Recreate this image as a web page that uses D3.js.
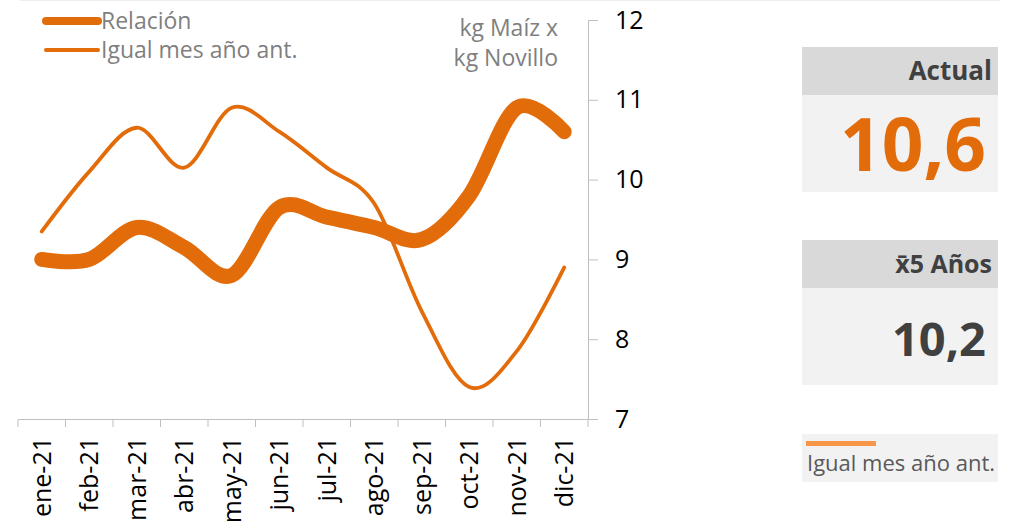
<!DOCTYPE html>
<html>
<head>
<meta charset="utf-8">
<script src="https://cdn.jsdelivr.net/npm/d3@7"></script>
<style>
  body { margin: 0; background: #fff; }
  text { font-family: "Open Sans", "Noto Sans", sans-serif; }
</style>
</head>
<body>
<div id="chart"></div>
<script>
// data
var months = ['ene-21', 'feb-21', 'mar-21', 'abr-21', 'may-21', 'jun-21',
              'jul-21', 'ago-21', 'sep-21', 'oct-21', 'nov-21', 'dic-21'];
var relacion = [9.0, 9.0, 9.4, 9.15, 8.8, 9.65, 9.53, 9.4, 9.25, 9.8, 10.9, 10.6];
var igual_mes = [9.35, 10.1, 10.65, 10.15, 10.9, 10.6, 10.15, 9.7, 8.35, 7.4, 7.85, 8.9];
var y_ticks = [7, 8, 9, 10, 11, 12];
var actual_label = 'Actual', actual_value = '10,6';
var avg_label = 'x\u03045 Años', avg_value = '10,2';
var series_names = ['Relación', 'Igual mes año ant.'];

const orange = '#e36c0a';
const grey_axis = '#bfbfbf';
const grey_text = '#7f7f7f';

var svg = d3.select('#chart').append('svg')
  .attr('width', 1022)
  .attr('height', 531);

// faint top border of the chart area
svg.append('line')
  .attr('x1', 20).attr('x2', 1000)
  .attr('y1', 0.5).attr('y2', 0.5)
  .attr('stroke', '#efefef');

var x = d3.scaleBand().domain(months).range([18, 588]);
var y = d3.scaleLinear().domain([7, 12]).range([419, 20]);

// y axis on the right
var y_axis = svg.append('g')
  .attr('transform', 'translate(588,0)')
  .call(d3.axisRight(y).tickValues(y_ticks).tickFormat(d3.format('d'))
    .tickSize(10).tickSizeOuter(0).tickPadding(17));
y_axis.select('.domain').attr('stroke', grey_axis);
y_axis.selectAll('.tick line').attr('stroke', grey_axis);
y_axis.selectAll('.tick text')
  .attr('font-size', 25)
  .attr('fill', '#000')
  .style('font-family', '"Open Sans", sans-serif');

// x axis
var x_axis = svg.append('g')
  .attr('transform', 'translate(0,419)')
  .call(d3.axisBottom(x).tickSize(0).tickPadding(0));
x_axis.select('.domain').attr('stroke', grey_axis);
x_axis.selectAll('.tick text')
  .attr('transform', 'rotate(-90)')
  .attr('text-anchor', 'end')
  .attr('x', -18)
  .attr('y', 0)
  .attr('dy', '0.36em')
  .attr('font-size', 25)
  .attr('fill', '#000')
  .style('font-family', '"Open Sans", sans-serif');
// tick marks between categories
x_axis.selectAll('.bound')
  .data(months.concat(['end']))
  .enter().append('line')
  .attr('class', 'bound')
  .attr('x1', function(d, i){ return i < months.length ? x(d) : x.range()[1]; })
  .attr('x2', function(d, i){ return i < months.length ? x(d) : x.range()[1]; })
  .attr('y1', 0).attr('y2', 8)
  .attr('stroke', grey_axis);

// lines
var line_gen = d3.line()
  .x(function(d, i){ return x(months[i]) + x.bandwidth() / 2; })
  .y(function(d){ return y(d); })
  .curve(d3.curveCatmullRom.alpha(0));

svg.append('path')
  .datum(igual_mes)
  .attr('d', line_gen)
  .attr('fill', 'none')
  .attr('stroke', orange)
  .attr('stroke-width', 3.8)
  .attr('stroke-linecap', 'round');

svg.append('path')
  .datum(relacion)
  .attr('d', line_gen)
  .attr('fill', 'none')
  .attr('stroke', orange)
  .attr('stroke-width', 15)
  .attr('stroke-linecap', 'round')
  .attr('stroke-linejoin', 'round');

// legend top-left
svg.append('line')
  .attr('x1', 46).attr('x2', 98).attr('y1', 21).attr('y2', 21)
  .attr('stroke', orange).attr('stroke-width', 8).attr('stroke-linecap', 'round');
svg.append('line')
  .attr('x1', 46).attr('x2', 98).attr('y1', 50).attr('y2', 50)
  .attr('stroke', orange).attr('stroke-width', 4).attr('stroke-linecap', 'round');
svg.append('text')
  .attr('x', 101).attr('y', 29)
  .attr('font-size', 23).attr('fill', grey_text)
  .text(series_names[0]);
svg.append('text')
  .attr('x', 101).attr('y', 58)
  .attr('font-size', 23).attr('fill', grey_text)
  .text(series_names[1]);

// unit label
svg.append('text')
  .attr('x', 558).attr('y', 36)
  .attr('text-anchor', 'end')
  .attr('font-size', 23).attr('fill', grey_text)
  .text('kg Maíz x');
svg.append('text')
  .attr('x', 558).attr('y', 66)
  .attr('text-anchor', 'end')
  .attr('font-size', 23).attr('fill', grey_text)
  .text('kg Novillo');

// right panel boxes
function stat_box(top, head_h, body_h, label, label_size, value, value_size, value_color, value_y){
  svg.append('rect')
    .attr('x', 802).attr('y', top)
    .attr('width', 196).attr('height', head_h)
    .attr('fill', '#d9d9d9');
  svg.append('rect')
    .attr('x', 802).attr('y', top + head_h)
    .attr('width', 196).attr('height', body_h)
    .attr('fill', '#f2f2f2');
  svg.append('text')
    .attr('x', 992).attr('y', top + head_h / 2)
    .attr('dy', '0.36em')
    .attr('text-anchor', 'end')
    .attr('font-size', label_size).attr('font-weight', 'bold')
    .attr('fill', '#404040')
    .text(label);
  svg.append('text')
    .attr('x', 986).attr('y', value_y)
    .attr('text-anchor', 'end')
    .attr('font-size', value_size).attr('font-weight', 'bold')
    .attr('fill', value_color)
    .text(value);
}
stat_box(47, 48, 97, actual_label, 26, actual_value, 73, orange, 171);
stat_box(240, 48, 97, avg_label, 25, avg_value, 47, '#404040', 356);

// bottom legend box
svg.append('rect')
  .attr('x', 802).attr('y', 434)
  .attr('width', 196).attr('height', 48)
  .attr('fill', '#f2f2f2');
svg.append('line')
  .attr('x1', 806).attr('x2', 876).attr('y1', 443.5).attr('y2', 443.5)
  .attr('stroke', '#f79646').attr('stroke-width', 5);
svg.append('text')
  .attr('x', 807).attr('y', 471)
  .attr('font-size', 22).attr('fill', '#595959')
  .text(series_names[1]);
</script>
</body>
</html>
